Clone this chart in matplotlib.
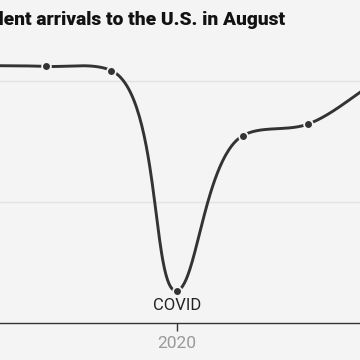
import numpy as np
import matplotlib.pyplot as plt

plt.rcParams['font.family'] = ['Roboto', 'DejaVu Sans']

# data (thousands of arrivals)
years = [2017, 2018, 2019, 2020, 2021, 2022, 2023]
arrivals = [212.5, 211.8, 208.3, 26.4, 154.5, 164.2, 198]
grid_vals = [100, 200]
title = "International student arrivals to the U.S. in August"

bg = '#f4f4f4'
ink = '#333333'

fig = plt.figure(figsize=(3.6, 3.6), dpi=100, facecolor=bg)
ax = fig.add_axes([0, 1 - 322.7 / 360, 1, (322.7 - 45) / 360])
ax.set_facecolor(bg)
ax.set_xlim(2017.30, 2022.79)
ax.set_ylim(0, 229.5)


def catmull_rom(px, py, alpha=0.5, n=60):
    # catmull-rom through the points (screen space)
    P = np.column_stack([px, py])
    P = np.vstack([2 * P[0] - P[1], P, 2 * P[-1] - P[-2]])
    out = []
    for i in range(1, len(P) - 2):
        p0, p1, p2, p3 = P[i - 1], P[i], P[i + 1], P[i + 2]
        t0 = 0.0
        t1 = t0 + np.linalg.norm(p1 - p0) ** alpha
        t2 = t1 + np.linalg.norm(p2 - p1) ** alpha
        t3 = t2 + np.linalg.norm(p3 - p2) ** alpha
        t = np.linspace(t1, t2, n)[:, None]
        a1 = (t1 - t) / (t1 - t0) * p0 + (t - t0) / (t1 - t0) * p1
        a2 = (t2 - t) / (t2 - t1) * p1 + (t - t1) / (t2 - t1) * p2
        a3 = (t3 - t) / (t3 - t2) * p2 + (t - t2) / (t3 - t2) * p3
        b1 = (t2 - t) / (t2 - t0) * a1 + (t - t0) / (t2 - t0) * a2
        b2 = (t3 - t) / (t3 - t1) * a2 + (t - t1) / (t3 - t1) * a3
        c = (t2 - t) / (t2 - t1) * b1 + (t - t1) / (t2 - t1) * b2
        out.append(c)
    return np.vstack(out)


# smooth the line in pixel space, then map back to data
disp = ax.transData.transform(np.column_stack([years, arrivals]))
curve = catmull_rom(disp[:, 0], disp[:, 1], alpha=0.8)
curve = ax.transData.inverted().transform(curve)

for v in grid_vals:
    ax.axhline(v, color='#e3e3e3', lw=1.0, zorder=1)

ax.plot(curve[:, 0], curve[:, 1], color=ink, lw=2.1, zorder=3,
        solid_capstyle='round')
ax.plot(years, arrivals, 'o', ms=6.3, color=ink, mec=bg, mew=1.3, zorder=4)

ax.annotate('COVID', xy=(years[3], arrivals[3]), xytext=(0, -5.5),
            textcoords='offset points', ha='center', va='top',
            fontsize=12, color='#222222')

for s in ['top', 'left', 'right']:
    ax.spines[s].set_visible(False)
ax.spines['bottom'].set_color(ink)
ax.spines['bottom'].set_linewidth(1.0)
ax.set_yticks([])
ax.set_xticks([2020])
ax.set_xticklabels(['2020'])
ax.tick_params(axis='x', length=5.5, width=1.0, color=ink, pad=4,
               labelsize=12.5, labelcolor='#999999')

fig.text(285 / 360, 1 - 25 / 360, title, ha='right', va='baseline',
         fontsize=13.75, fontweight='heavy', color='#121212')

fig.savefig('out.png', dpi=100, facecolor=bg)
